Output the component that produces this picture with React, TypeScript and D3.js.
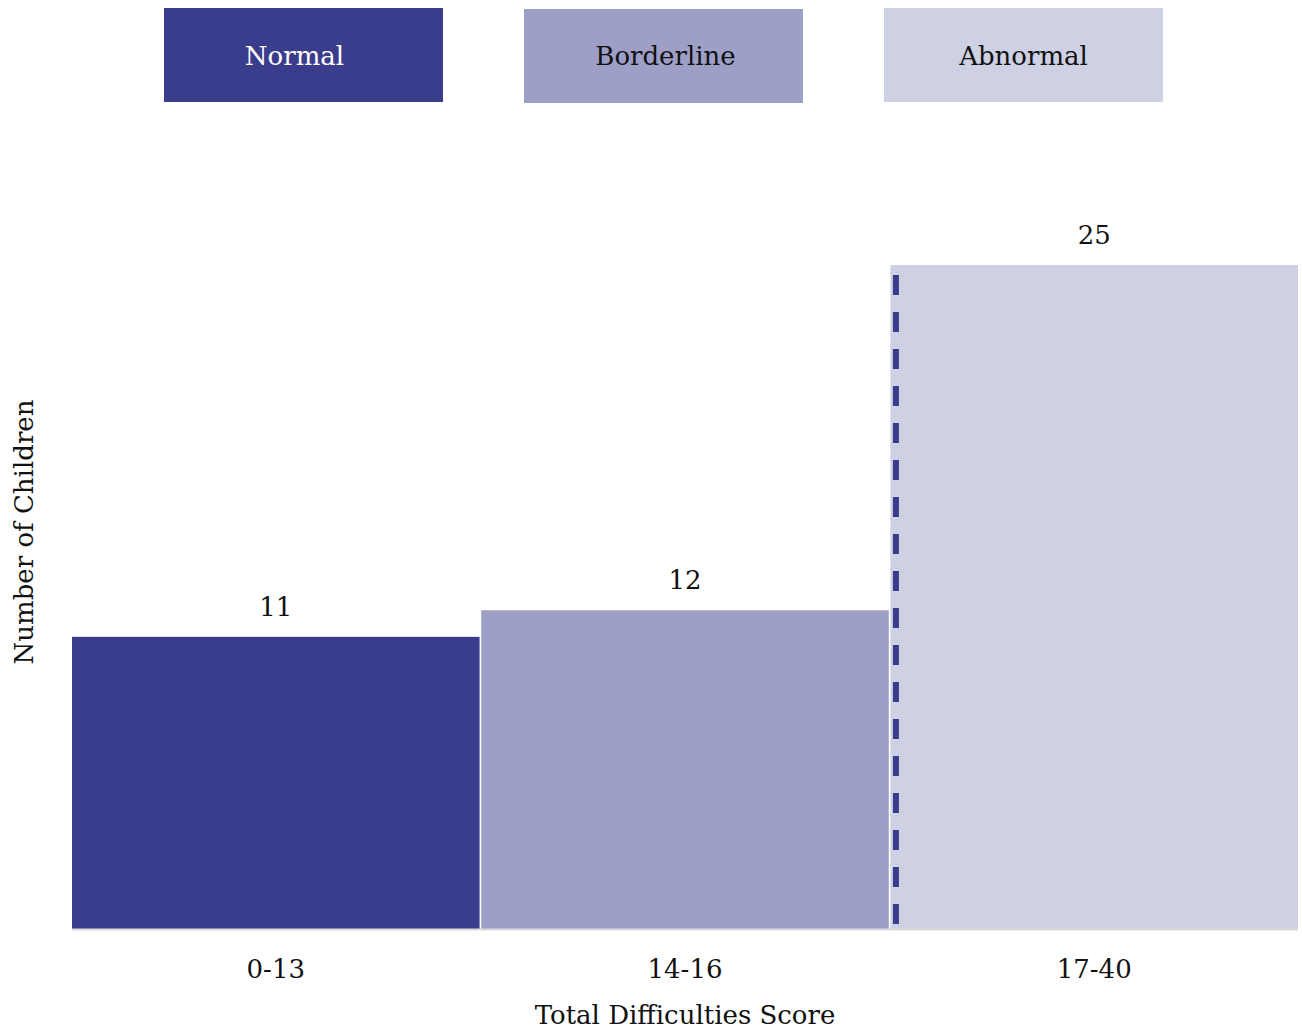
import React from "react";
import * as d3 from "d3";

const categories = ["0-13", "14-16", "17-40"];
const counts = [11, 12, 25];
const groups = ["Normal", "Borderline", "Abnormal"];
const colors = ["#3a3d8b", "#9d9fc7", "#ced0e4"];
const legendText = ["#ffffff", "#111111", "#111111"];
const legendTextShift = [-9, 2, 0];
const cutoffCategory = "17-40";

const W = 1302;
const H = 1029;
const FONT = "'DejaVu Serif', serif";

export default function App() {
  const left = 72, right = 1298, baseline = 929;
  const x = d3.scaleBand().domain(categories).range([left, right]).paddingInner(0.004);
  const y = d3.scaleLinear().domain([0, 25]).range([baseline, 265]);
  const lx = d3.scaleBand().domain(groups).range([164, 1163]).paddingInner(0.225);

  const cutX = (x(cutoffCategory) as number) + 5.5;

  return (
    <svg width={W} height={H} style={{ position: "absolute", left: 0, top: 0, background: "#fff" }}>
      {groups.map((g, i) => (
        <g key={g}>
          <rect x={lx(g)} y={i === 1 ? 9 : 8} width={lx.bandwidth()} height={94} fill={colors[i]} />
          <text
            x={(lx(g) as number) + lx.bandwidth() / 2 + legendTextShift[i]}
            y={56}
            textAnchor="middle"
            dominantBaseline="central"
            fontFamily={FONT}
            fontSize={26}
            fill={legendText[i]}
          >
            {g}
          </text>
        </g>
      ))}
      {categories.map((c, i) => (
        <g key={c}>
          <rect x={x(c)} y={y(counts[i])} width={x.bandwidth()} height={baseline - y(counts[i])} fill={colors[i]} />
          <text
            x={(x(c) as number) + x.bandwidth() / 2}
            y={y(counts[i]) - 30}
            textAnchor="middle"
            dominantBaseline="central"
            fontFamily={FONT}
            fontSize={26}
            fill="#111"
          >
            {counts[i]}
          </text>
          <text
            x={(x(c) as number) + x.bandwidth() / 2}
            y={969}
            textAnchor="middle"
            dominantBaseline="central"
            fontFamily={FONT}
            fontSize={26}
            fill="#111"
          >
            {c}
          </text>
        </g>
      ))}
      <line x1={left} x2={right} y1={baseline + 0.5} y2={baseline + 0.5} stroke="#d9d9d9" strokeWidth={2} />
      <line
        x1={cutX}
        x2={cutX}
        y1={y(25) + 10}
        y2={baseline - 4}
        stroke="#3a3d8b"
        strokeWidth={6}
        strokeDasharray="20 17"
      />
      <text
        x={(left + right) / 2}
        y={1015}
        textAnchor="middle"
        dominantBaseline="central"
        fontFamily={FONT}
        fontSize={26}
        fill="#111"
      >
        Total Difficulties Score
      </text>
      <text
        transform={`translate(24,532) rotate(-90)`}
        textAnchor="middle"
        dominantBaseline="central"
        fontFamily={FONT}
        fontSize={26}
        fill="#111"
      >
        Number of Children
      </text>
    </svg>
  );
}
